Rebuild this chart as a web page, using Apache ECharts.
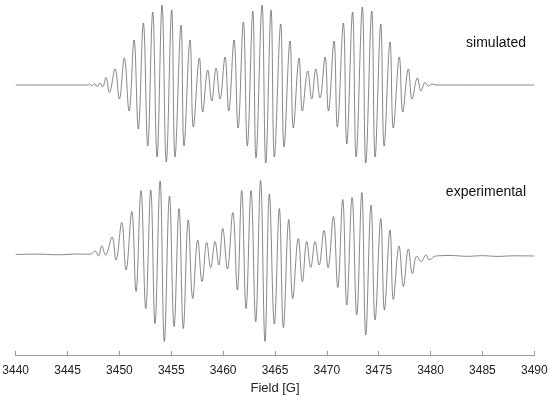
<!DOCTYPE html>
<html>
<head>
<meta charset="utf-8">
<script src="https://cdn.jsdelivr.net/npm/echarts@6/dist/echarts.min.js"></script>
<style>
  html, body { margin: 0; padding: 0; background: #fff; }
  #main { width: 550px; height: 401px; }
</style>
</head>
<body>
<div id="main"></div>
<script>
// field positions [G] of the turning points
var simField = [3440, 3446.97, 3447.10, 3447.33, 3447.58, 3447.84, 3448.13, 3448.37,
  3448.71, 3449.03, 3449.58, 3449.99, 3450.47, 3450.93, 3451.41, 3451.82,
  3452.31, 3452.73, 3453.21, 3453.63, 3454.11, 3454.52, 3455.04, 3455.36,
  3455.94, 3456.23, 3456.81, 3457.13, 3457.71, 3458.03, 3458.52, 3458.90,
  3459.32, 3459.70, 3460.18, 3460.54, 3461.05, 3461.44, 3461.95, 3462.33,
  3462.86, 3463.17, 3463.75, 3464.11, 3464.62, 3464.94, 3465.55, 3465.87,
  3466.45, 3466.77, 3467.32, 3467.64, 3468.16, 3468.54, 3468.93, 3469.34,
  3469.83, 3470.15, 3470.69, 3471.01, 3471.59, 3471.92, 3472.48, 3472.82,
  3473.42, 3473.75, 3474.33, 3474.65, 3475.20, 3475.52, 3476.09, 3476.41,
  3476.99, 3477.32, 3477.86, 3478.22, 3478.73, 3479.08, 3479.47, 3479.79,
  3480.12, 3480.53, 3490];
// simulated intensity (a.u.)
var simValue = [0, 0, 1, -1, 1.5, -1.5, 2, -2,
  7.5, -7.5, 16, -14, 27, -26, 45, -44,
  62, -61, 73, -72, 80, -77, 75, -72,
  60, -61, 45, -42, 27, -27, 15, -16,
  17, -14, 28, -26, 45, -43, 63, -61,
  74, -73, 80, -78, 75, -72, 61, -62,
  44, -43, 27, -26, 14, -14, 16, -13,
  28, -26, 44, -42, 62, -59, 73, -72,
  78, -78, 74, -72, 61, -61, 43, -43,
  28, -27, 16, -14, 7, -6, 2.5, -1,
  1, 0, 0];

var expField = [3440, 3442.0, 3444.1, 3446.0, 3447.2, 3447.65, 3447.99, 3448.29,
  3448.66, 3449.29, 3449.67, 3450.22, 3450.64, 3451.19, 3451.60, 3452.08,
  3452.54, 3453.02, 3453.43, 3453.92, 3454.33, 3454.83, 3455.27, 3455.75,
  3456.16, 3456.64, 3457.07, 3457.55, 3457.97, 3458.42, 3458.80, 3459.22,
  3459.58, 3459.96, 3460.41, 3460.93, 3461.37, 3461.79, 3462.21, 3462.69,
  3463.14, 3463.61, 3464.04, 3464.46, 3464.94, 3465.42, 3465.81, 3466.33,
  3466.71, 3467.25, 3467.64, 3468.06, 3468.45, 3468.86, 3469.25, 3469.73,
  3470.12, 3470.63, 3471.05, 3471.53, 3471.92, 3472.43, 3472.88, 3473.37,
  3473.75, 3474.26, 3474.65, 3475.20, 3475.55, 3476.09, 3476.41, 3476.96,
  3477.38, 3477.86, 3478.25, 3478.67, 3479.08, 3479.57, 3479.86, 3480.5,
  3482.0, 3483.5, 3485.0, 3486.5, 3488.0, 3490];
// experimental intensity (a.u.)
var expValue = [0, 0.4, -0.3, 0.5, 0.3, 3.5, -1.5, 8.8,
  -0.5, 17.5, -5.5, 32, -15.5, 43, -37, 64,
  -54, 64.5, -69, 73.5, -87, 58.5, -72, 46,
  -74, 34.5, -44, 14.5, -27, 12, -13, 13,
  -10.5, 26, -14.5, 42, -35.5, 64, -54, 64,
  -67, 74, -87, 60.5, -69.5, 46, -73, 35,
  -44, 16, -27, 13, -13, 13, -10.5, 24,
  -13, 38, -33, 55, -50.5, 57, -60.5, 62,
  -80.5, 49.5, -65.5, 36, -55.5, 24.5, -45, 8.5,
  -32, 5.5, -19, -1.5, -7, -0.5, -5.5, -1.5,
  -1.0, -1.8, -1.2, -1.9, -1.3, -1.5];

var xTicks = [3440, 3445, 3450, 3455, 3460, 3465, 3470, 3475, 3480, 3485, 3490];

// vertical placement of the two traces (stacked in one plot)
var simBase = 270, expBase = 100.5;

function build(f, v, base) {
  var out = [];
  for (var i = 0; i < f.length; i++) out.push([f[i], v[i] + base]);
  return out;
}

var myChart = echarts.init(document.getElementById('main'));
var option = {
  animation: false,
  grid: { left: 15.7, right: 15.7, top: 0, bottom: 46, outerBoundsMode: 'none', containLabel: false },
  xAxis: {
    type: 'value',
    min: xTicks[0],
    max: xTicks[xTicks.length - 1],
    interval: 5,
    name: 'Field [G]',
    nameLocation: 'middle',
    nameGap: 27,
    nameTextStyle: { fontFamily: 'Liberation Sans', fontSize: 13, color: '#222' },
    axisLine: { lineStyle: { color: '#999', width: 1 } },
    axisTick: { inside: true, length: 4, lineStyle: { color: '#999' } },
    axisLabel: {
      fontFamily: 'Liberation Sans', fontSize: 12, color: '#222', margin: 10,
      formatter: function (v) { return String(v); }
    },
    splitLine: { show: false }
  },
  yAxis: { type: 'value', min: 0, max: 355, show: false },
  series: [
    {
      name: 'simulated', type: 'line', data: build(simField, simValue, simBase),
      smooth: 0.4, showSymbol: false, symbol: 'none',
      lineStyle: { color: '#555', width: 0.7 }
    },
    {
      name: 'experimental', type: 'line', data: build(expField, expValue, expBase),
      smooth: 0.4, showSymbol: false, symbol: 'none',
      lineStyle: { color: '#555', width: 0.7 }
    }
  ],
  graphic: [
    { type: 'text', right: 24, top: 36,
      style: { text: 'simulated', font: '14px "Liberation Sans"', fill: '#111' } },
    { type: 'text', right: 24, top: 185,
      style: { text: 'experimental', font: '14px "Liberation Sans"', fill: '#111' } }
  ]
};
myChart.setOption(option);
</script>
</body>
</html>
